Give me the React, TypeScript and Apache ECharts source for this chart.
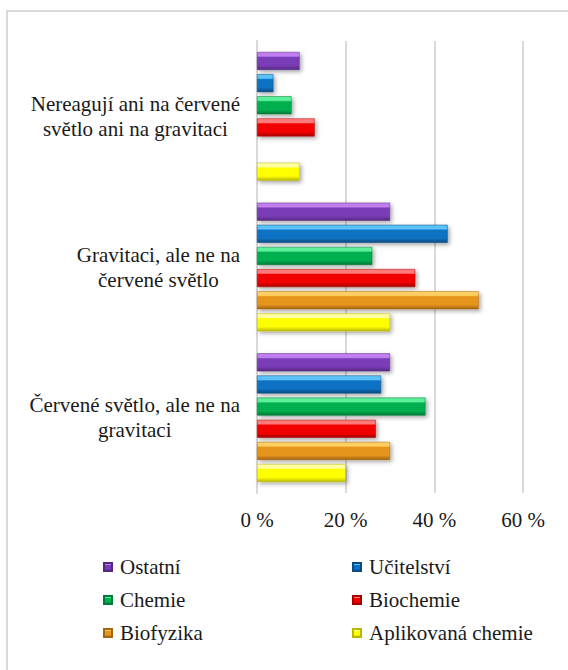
import React, { useEffect, useRef } from "react";
import * as echarts from "echarts";

const categories = [
  "Nereagují ani na červené\nsvětlo ani na gravitaci",
  "Gravitaci, ale ne na\nčervené světlo",
  "Červené světlo, ale ne na\ngravitaci",
];
const seriesNames = ["Ostatní", "Učitelství", "Chemie", "Biochemie", "Biofyzika", "Aplikovaná chemie"];
const ostatni = [9.6, 30, 30];
const ucitelstvi = [3.7, 43, 28];
const chemie = [7.8, 26, 38];
const biochemie = [13, 35.7, 26.8];
const biofyzika = [null, 50, 30];
const aplikovana = [9.6, 30, 20];
const xTicks = [0, 20, 40, 60];

const seriesValues = [ostatni, ucitelstvi, chemie, biochemie, biofyzika, aplikovana];
const palette = [
  ["#c27ef0", "#7a3cb8", "#55287f"],
  ["#5cc2fa", "#0a72c4", "#0a4a80"],
  ["#5cf09a", "#00b050", "#007a36"],
  ["#ff7a7a", "#f20000", "#a80000"],
  ["#ffd060", "#e6951e", "#a86410"],
  ["#ffffa0", "#ffff00", "#b8b800"],
];
const FONT = "Liberation Serif, Times New Roman, serif";
const FS = 21;

export default function App() {
  const ref = useRef<HTMLDivElement>(null);
  useEffect(() => {
    if (!ref.current) return;
    const chart = echarts.init(ref.current, undefined, { renderer: "svg" });
    const grad = (c: string[]) =>
      new echarts.graphic.LinearGradient(0, 0, 0, 1, [
        { offset: 0, color: c[0] },
        { offset: 0.22, color: c[0] },
        { offset: 0.3, color: c[1] },
        { offset: 0.75, color: c[1] },
        { offset: 1, color: c[2] },
      ]);
    const legendText = { fontSize: FS, fontFamily: FONT, color: "#1a1a1a", lineHeight: 22, padding: [0, 0, 0, 3] };
    chart.setOption({
      animation: false,
      backgroundColor: "#ffffff",
      textStyle: { fontFamily: FONT },
      graphic: [
        {
          type: "rect",
          shape: { x: 7, y: 11, width: 620, height: 720 },
          style: { fill: "none", stroke: "#d9d9d9", lineWidth: 2 },
          silent: true,
        },
      ],
      grid: { left: 257, right: 45, top: 41, bottom: 177 },
      xAxis: {
        type: "value",
        min: 0,
        max: 60,
        interval: 20,
        axisLine: { show: false },
        axisTick: { show: false },
        splitLine: { lineStyle: { color: "#d9d9d9", width: 2 } },
        axisLabel: {
          formatter: (v: number) => (xTicks.includes(v) ? `${v} %` : ""),
          fontSize: FS,
          fontFamily: FONT,
          color: "#1a1a1a",
          margin: 16,
        },
      },
      yAxis: {
        type: "category",
        inverse: true,
        data: categories,
        axisLine: { show: true, lineStyle: { color: "#d9d9d9", width: 2 } },
        axisTick: { show: false },
        axisLabel: {
          margin: 17,
          align: "right",
          fontFamily: FONT,
          fontSize: FS,
          color: "#1a1a1a",
          formatter: (v: string) =>
            v
              .split("\n")
              .map((l) => `{c|${l}}`)
              .join("\n"),
          rich: {
            c: { align: "center", fontSize: FS, fontFamily: FONT, lineHeight: 25, color: "#1a1a1a" },
          },
        },
      },
      legend: [
        {
          data: [seriesNames[0], seriesNames[2], seriesNames[4]],
          orient: "vertical",
          left: 98,
          top: 551,
          itemWidth: 8,
          itemHeight: 8,
          itemGap: 11,
          icon: "rect",
          textStyle: legendText,
        },
        {
          data: [seriesNames[1], seriesNames[3], seriesNames[5]],
          orient: "vertical",
          left: 347,
          top: 551,
          itemWidth: 8,
          itemHeight: 8,
          itemGap: 11,
          icon: "rect",
          textStyle: legendText,
        },
      ],
      series: seriesNames.map((name, i) => ({
        name,
        type: "bar",
        data: seriesValues[i],
        barWidth: 18,
        barGap: "23%",
        itemStyle: {
          color: grad(palette[i]),
          borderColor: palette[i][2],
          borderWidth: 0.5,
          shadowColor: "rgba(0,0,0,0.35)",
          shadowBlur: 4,
          shadowOffsetX: 2,
          shadowOffsetY: 2,
        },
      })),
    });
    return () => chart.dispose();
  }, []);
  return (
    <div
      ref={ref}
      style={{ position: "absolute", left: 0, top: 0, width: 568, height: 670 }}
    />
  );
}
